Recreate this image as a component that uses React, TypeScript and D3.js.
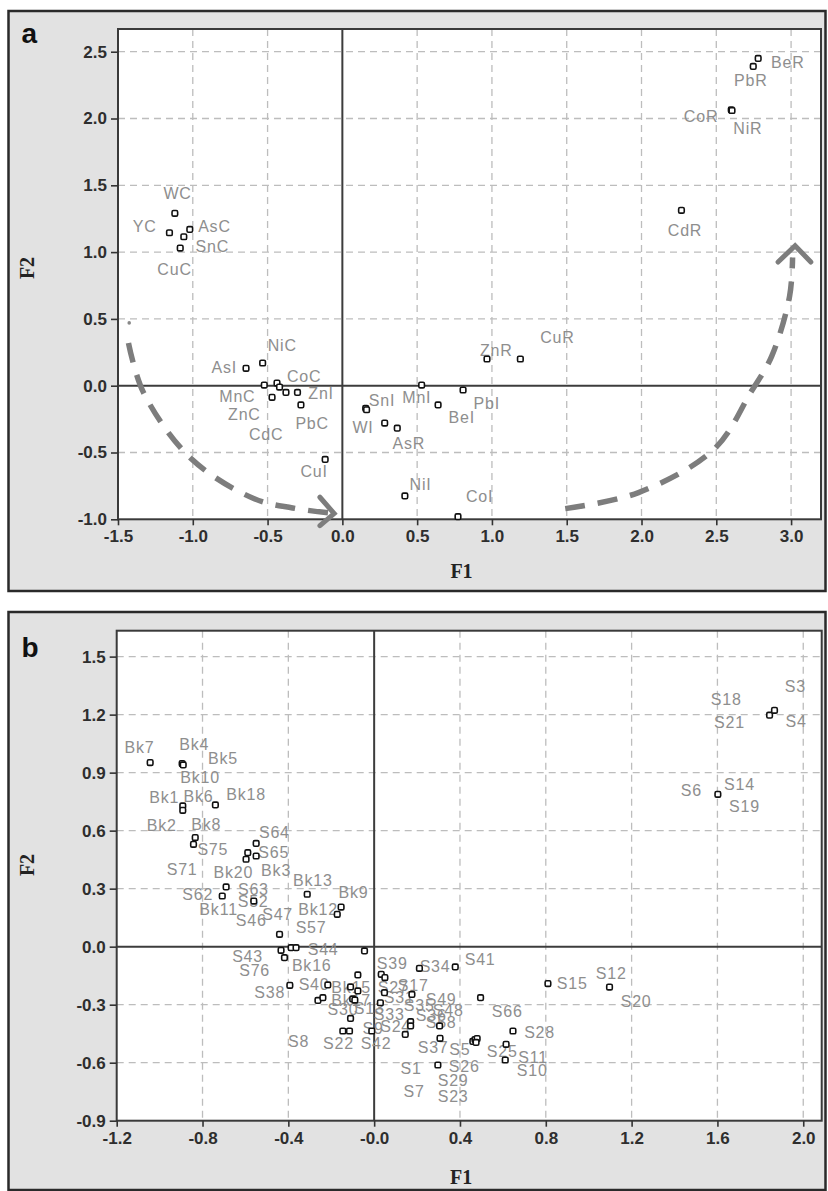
import React, { useRef, useEffect } from 'react';
import * as d3 from 'd3';

// ---- panel a : variables (fractions) ----
const aPoints = [
  { f1: -1.12, f2: 1.29 }, { f1: -1.156, f2: 1.145 }, { f1: -1.02, f2: 1.17 },
  { f1: -1.06, f2: 1.115 }, { f1: -1.084, f2: 1.03 },
  { f1: 2.78, f2: 2.45 }, { f1: 2.747, f2: 2.39 }, { f1: 2.6, f2: 2.065 },
  { f1: 2.605, f2: 2.06 }, { f1: 2.267, f2: 1.313 },
  { f1: -0.644, f2: 0.13 }, { f1: -0.533, f2: 0.17 }, { f1: -0.522, f2: 0.005 },
  { f1: -0.437, f2: 0.02 }, { f1: -0.42, f2: -0.01 }, { f1: -0.377, f2: -0.05 },
  { f1: -0.3, f2: -0.05 }, { f1: -0.47, f2: -0.087 }, { f1: -0.277, f2: -0.144 },
  { f1: -0.115, f2: -0.552 },
  { f1: 0.156, f2: -0.17 }, { f1: 0.162, f2: -0.18 }, { f1: 0.283, f2: -0.28 },
  { f1: 0.367, f2: -0.318 }, { f1: 0.418, f2: -0.825 }, { f1: 0.53, f2: 0.005 },
  { f1: 0.64, f2: -0.144 }, { f1: 0.807, f2: -0.032 }, { f1: 0.967, f2: 0.2 },
  { f1: 1.19, f2: 0.2 }, { f1: 0.773, f2: -0.98 },
];

const aLabels = [
  { text: 'WC', f1: -1.102, f2: 1.444 }, { text: 'YC', f1: -1.322, f2: 1.192 },
  { text: 'AsC', f1: -0.855, f2: 1.192 }, { text: 'SnC', f1: -0.869, f2: 1.043 },
  { text: 'CuC', f1: -1.122, f2: 0.871 }, { text: 'BeR', f1: 2.978, f2: 2.423 },
  { text: 'PbR', f1: 2.731, f2: 2.289 }, { text: 'CoR', f1: 2.398, f2: 2.02 },
  { text: 'NiR', f1: 2.711, f2: 1.93 }, { text: 'CdR', f1: 2.291, f2: 1.162 },
  { text: 'AsI', f1: -0.789, f2: 0.14 }, { text: 'NiC', f1: -0.402, f2: 0.304 },
  { text: 'MnC', f1: -0.702, f2: -0.077 }, { text: 'CoC', f1: -0.255, f2: 0.072 },
  { text: 'ZnI', f1: -0.142, f2: -0.054 }, { text: 'ZnC', f1: -0.655, f2: -0.211 },
  { text: 'PbC', f1: -0.202, f2: -0.278 }, { text: 'CdC', f1: -0.509, f2: -0.36 },
  { text: 'CuI', f1: -0.189, f2: -0.644 }, { text: 'SnI', f1: 0.265, f2: -0.107 },
  { text: 'WI', f1: 0.138, f2: -0.308 }, { text: 'AsR', f1: 0.445, f2: -0.428 },
  { text: 'NiI', f1: 0.523, f2: -0.741 }, { text: 'MnI', f1: 0.498, f2: -0.084 },
  { text: 'BeI', f1: 0.798, f2: -0.234 }, { text: 'PbI', f1: 0.965, f2: -0.129 },
  { text: 'ZnR', f1: 1.029, f2: 0.269 }, { text: 'CuR', f1: 1.438, f2: 0.363 },
  { text: 'CoI', f1: 0.918, f2: -0.831 },
];

// dashed trend arrows drawn on panel a (data units)
const aArrowLeft = [[-1.43, 0.32], [-1.33, -0.05], [-1.01, -0.547], [-0.589, -0.846], [-0.333, -0.915], [-0.07, -0.955]];
const aArrowLeftHead = [[-0.15, -0.835], [-0.055, -0.957], [-0.15, -1.048]];
const aArrowRight = [[1.49, -0.92], [1.98, -0.8], [2.49, -0.47], [2.73, -0.05], [2.87, 0.22], [2.99, 0.67], [3.01, 0.96]];
const aArrowRightHead = [[2.913, 0.926], [3.027, 1.048], [3.132, 0.926]];

const aXTicks = [-1.5, -1.0, -0.5, 0.0, 0.5, 1.0, 1.5, 2.0, 2.5, 3.0];
const aXTickLabels = ['-1.5', '-1.0', '-0.5', '0.0', '0.5', '1.0', '1.5', '2.0', '2.5', '3.0'];
const aYTicks = [-1.0, -0.5, 0.0, 0.5, 1.0, 1.5, 2.0, 2.5];
const aYTickLabels = ['-1.0', '-0.5', '0.0', '0.5', '1.0', '1.5', '2.0', '2.5'];

// ---- panel b : samples ----
const bPoints = [
  [-1.044, 0.952], [-0.895, 0.947], [-0.89, 0.94],
  [-0.892, 0.728], [-0.892, 0.705], [-0.74, 0.733],
  [-0.834, 0.564], [-0.842, 0.529],
  [-0.55, 0.534], [-0.589, 0.486], [-0.55, 0.469], [-0.597, 0.452],
  [-0.69, 0.309], [-0.708, 0.262], [-0.561, 0.236],
  [-0.312, 0.271], [-0.154, 0.205], [-0.172, 0.167],
  [-0.441, 0.064],
  [-0.434, -0.019], [-0.418, -0.057], [-0.387, -0.005], [-0.364, -0.005],
  [-0.045, -0.022],
  [-0.393, -0.2], [-0.216, -0.198], [-0.262, -0.278], [-0.239, -0.264],
  [-0.076, -0.146], [-0.11, -0.208], [-0.076, -0.229], [-0.1, -0.27], [-0.09, -0.276],
  [-0.11, -0.371], [-0.146, -0.436], [-0.115, -0.436], [-0.011, -0.436],
  [0.033, -0.143], [0.05, -0.16], [0.048, -0.238], [0.029, -0.29],
  [0.211, -0.112], [0.378, -0.105], [0.176, -0.247],
  [0.17, -0.388], [0.17, -0.41], [0.145, -0.454],
  [0.305, -0.41], [0.307, -0.474], [0.297, -0.612],
  [0.496, -0.264],
  [0.46, -0.49], [0.47, -0.48], [0.48, -0.475], [0.475, -0.495],
  [0.647, -0.436], [0.615, -0.505], [0.611, -0.586],
  [0.81, -0.191], [1.097, -0.209],
  [1.843, 1.197], [1.866, 1.222],
  [1.602, 0.788],
];

const bLabels = [
  { text: 'Bk7', f1: -1.094, f2: 1.033 }, { text: 'Bk4', f1: -0.839, f2: 1.047 },
  { text: 'Bk5', f1: -0.705, f2: 0.974 }, { text: 'Bk10', f1: -0.811, f2: 0.874 },
  { text: 'Bk1', f1: -0.978, f2: 0.774 }, { text: 'Bk6', f1: -0.819, f2: 0.78 },
  { text: 'Bk18', f1: -0.597, f2: 0.788 }, { text: 'Bk2', f1: -0.99, f2: 0.63 },
  { text: 'Bk8', f1: -0.783, f2: 0.633 }, { text: 'S64', f1: -0.465, f2: 0.59 },
  { text: 'S75', f1: -0.752, f2: 0.503 }, { text: 'S65', f1: -0.468, f2: 0.486 },
  { text: 'S71', f1: -0.895, f2: 0.4 }, { text: 'Bk20', f1: -0.656, f2: 0.383 },
  { text: 'Bk3', f1: -0.457, f2: 0.395 }, { text: 'Bk13', f1: -0.286, f2: 0.345 },
  { text: 'S62', f1: -0.822, f2: 0.271 }, { text: 'S63', f1: -0.563, f2: 0.296 },
  { text: 'S52', f1: -0.564, f2: 0.236 }, { text: 'Bk9', f1: -0.096, f2: 0.279 },
  { text: 'Bk11', f1: -0.725, f2: 0.191 }, { text: 'Bk12', f1: -0.261, f2: 0.193 },
  { text: 'S47', f1: -0.45, f2: 0.166 }, { text: 'S46', f1: -0.573, f2: 0.135 },
  { text: 'S57', f1: -0.294, f2: 0.098 }, { text: 'S43', f1: -0.59, f2: -0.047 },
  { text: 'S44', f1: -0.238, f2: -0.014 }, { text: 'Bk16', f1: -0.291, f2: -0.098 },
  { text: 'S76', f1: -0.557, f2: -0.123 }, { text: 'S39', f1: 0.084, f2: -0.088 },
  { text: 'S34', f1: 0.284, f2: -0.1 }, { text: 'S41', f1: 0.494, f2: -0.066 },
  { text: 'S15', f1: 0.923, f2: -0.191 }, { text: 'S12', f1: 1.105, f2: -0.135 },
  { text: 'S20', f1: 1.221, f2: -0.281 }, { text: 'S38', f1: -0.487, f2: -0.238 },
  { text: 'S40', f1: -0.28, f2: -0.195 }, { text: 'S66', f1: 0.62, f2: -0.333 },
  { text: 'S28', f1: 0.771, f2: -0.44 }, { text: 'S8', f1: -0.352, f2: -0.488 },
  { text: 'S22', f1: -0.166, f2: -0.497 }, { text: 'S42', f1: 0.009, f2: -0.497 },
  { text: 'S37', f1: 0.275, f2: -0.522 }, { text: 'S5', f1: 0.399, f2: -0.531 },
  { text: 'S25', f1: 0.597, f2: -0.54 }, { text: 'S11', f1: 0.741, f2: -0.574 },
  { text: 'S1', f1: 0.172, f2: -0.63 }, { text: 'S26', f1: 0.42, f2: -0.617 },
  { text: 'S10', f1: 0.737, f2: -0.64 }, { text: 'S29', f1: 0.368, f2: -0.693 },
  { text: 'S7', f1: 0.186, f2: -0.75 }, { text: 'S23', f1: 0.368, f2: -0.771 },
  { text: 'S3', f1: 1.963, f2: 1.349 }, { text: 'S18', f1: 1.641, f2: 1.279 },
  { text: 'S21', f1: 1.656, f2: 1.159 }, { text: 'S4', f1: 1.967, f2: 1.168 },
  { text: 'S6', f1: 1.478, f2: 0.811 }, { text: 'S14', f1: 1.703, f2: 0.84 },
  { text: 'S19', f1: 1.726, f2: 0.724 },
  // crowded centre, labels overlap
  { text: 'S27', f1: 0.089, f2: -0.212 }, { text: 'S17', f1: 0.182, f2: -0.202 },
  { text: 'S31', f1: 0.117, f2: -0.264 }, { text: 'Bk15', f1: -0.107, f2: -0.212 },
  { text: 'Bk17', f1: -0.107, f2: -0.279 }, { text: 'S30', f1: -0.145, f2: -0.326 },
  { text: 'S13', f1: -0.023, f2: -0.316 }, { text: 'S33', f1: 0.07, f2: -0.347 },
  { text: 'S35', f1: 0.21, f2: -0.305 }, { text: 'S36', f1: 0.266, f2: -0.357 },
  { text: 'S49', f1: 0.312, f2: -0.274 }, { text: 'S48', f1: 0.345, f2: -0.331 },
  { text: 'S58', f1: 0.312, f2: -0.393 }, { text: 'S9', f1: -0.005, f2: -0.424 },
  { text: 'S24', f1: 0.1, f2: -0.41 },
];

const bXTicks = [-1.2, -0.8, -0.4, 0.0, 0.4, 0.8, 1.2, 1.6, 2.0];
const bXTickLabels = ['-1.2', '-0.8', '-0.4', '-0.0', '0.4', '0.8', '1.2', '1.6', '2.0'];
const bYTicks = [-0.9, -0.6, -0.3, 0.0, 0.3, 0.6, 0.9, 1.2, 1.5];
const bYTickLabels = ['-0.9', '-0.6', '-0.3', '0.0', '0.3', '0.6', '0.9', '1.2', '1.5'];

const SANS = '"Liberation Sans", Arial, sans-serif';
const SERIF = '"Liberation Serif", "Times New Roman", serif';

function drawPanel(svg, cfg) {
  const g = svg.append('g');
  const { frame, plot } = cfg;

  g.append('rect')
    .attr('x', frame.x).attr('y', frame.y)
    .attr('width', frame.w).attr('height', frame.h)
    .attr('fill', '#e2e2e2').attr('stroke', '#2a2a2a').attr('stroke-width', 2.5);

  const x = d3.scaleLinear().domain(cfg.xDomain).range([plot.x0, plot.x1]);
  const y = d3.scaleLinear().domain(cfg.yDomain).range([plot.y1, plot.y0]);

  g.append('rect')
    .attr('x', plot.x0).attr('y', plot.y0)
    .attr('width', plot.x1 - plot.x0).attr('height', plot.y1 - plot.y0)
    .attr('fill', '#fff');

  // dashed grid
  g.selectAll('.vgrid')
    .data(cfg.xTicks.filter(t => t !== 0 && x(t) > plot.x0 + 3))
    .join('line')
    .attr('x1', d => x(d)).attr('x2', d => x(d))
    .attr('y1', plot.y0).attr('y2', plot.y1)
    .attr('stroke', '#bdbdbd').attr('stroke-width', 1.3).attr('stroke-dasharray', '7,5');
  g.selectAll('.hgrid')
    .data(cfg.yTicks.filter(t => t !== 0 && y(t) < plot.y1 - 3))
    .join('line')
    .attr('x1', plot.x0).attr('x2', plot.x1)
    .attr('y1', d => y(d)).attr('y2', d => y(d))
    .attr('stroke', '#bdbdbd').attr('stroke-width', 1.3).attr('stroke-dasharray', '7,5');

  // zero lines
  g.append('line').attr('x1', x(0)).attr('x2', x(0)).attr('y1', plot.y0).attr('y2', plot.y1)
    .attr('stroke', '#3c3c3c').attr('stroke-width', 2);
  g.append('line').attr('x1', plot.x0).attr('x2', plot.x1).attr('y1', y(0)).attr('y2', y(0))
    .attr('stroke', '#3c3c3c').attr('stroke-width', 2);

  g.append('rect')
    .attr('x', plot.x0).attr('y', plot.y0)
    .attr('width', plot.x1 - plot.x0).attr('height', plot.y1 - plot.y0)
    .attr('fill', 'none').attr('stroke', '#3a3a3a').attr('stroke-width', 2);

  // axes
  const yAxis = g.append('g')
    .attr('transform', `translate(${plot.x0},0)`)
    .call(d3.axisLeft(y).tickValues(cfg.yTicks).tickSize(7).tickPadding(4)
      .tickFormat((d, i) => cfg.yTickLabels[i]));
  const xAxis = g.append('g')
    .attr('transform', `translate(0,${plot.y1})`)
    .call(d3.axisBottom(x).tickValues(cfg.xTicks).tickSize(6).tickPadding(5)
      .tickFormat((d, i) => cfg.xTickLabels[i]));
  [yAxis, xAxis].forEach(ax => {
    ax.select('.domain').remove();
    ax.selectAll('line').attr('stroke', '#333').attr('stroke-width', 1.6);
    ax.selectAll('text')
      .attr('fill', '#2e2e2e')
      .style('font-family', SANS)
      .style('font-size', '17px')
      .style('font-weight', 'bold');
  });

  // trend arrows (panel a only)
  const line = d3.line().x(d => x(d[0])).y(d => y(d[1])).curve(d3.curveCatmullRom);
  (cfg.arrows || []).forEach(a => {
    g.append('path').attr('d', line(a.path))
      .attr('fill', 'none').attr('stroke', '#7d7d7d').attr('stroke-width', 5.5)
      .attr('stroke-dasharray', '20,13');
    g.append('path').attr('d', d3.line().x(d => x(d[0])).y(d => y(d[1]))(a.head))
      .attr('fill', 'none').attr('stroke', '#7d7d7d').attr('stroke-width', 5)
      .attr('stroke-linecap', 'round');
  });
  if (cfg.arrows) {
    g.append('circle').attr('cx', x(-1.425)).attr('cy', y(0.47)).attr('r', 1.8).attr('fill', '#888');
  }

  // labels
  g.selectAll('.lbl')
    .data(cfg.labels)
    .join('text')
    .attr('x', d => x(d.f1))
    .attr('y', d => y(d.f2))
    .attr('dy', '0.36em')
    .attr('text-anchor', 'middle')
    .attr('fill', '#8e8e8e')
    .style('font-family', SANS)
    .style('font-size', '16px')
    .style('letter-spacing', '0.8px')
    .text(d => d.text);

  // points: small open squares
  g.selectAll('.pt')
    .data(cfg.points)
    .join('rect')
    .attr('x', d => x(d[0]) - 2.8)
    .attr('y', d => y(d[1]) - 2.8)
    .attr('width', 5.6).attr('height', 5.6).attr('rx', 1.4)
    .attr('fill', '#fff').attr('stroke', '#111').attr('stroke-width', 1.6);

  // panel letter and axis titles
  g.append('text').attr('x', frame.x + 13).attr('y', cfg.letterY)
    .style('font-family', SANS).style('font-size', '28px').style('font-weight', 'bold')
    .attr('fill', '#111').text(cfg.letter);
  g.append('text')
    .attr('transform', `translate(${frame.x + 25},${cfg.f2Y}) rotate(-90)`)
    .attr('text-anchor', 'middle')
    .style('font-family', SERIF).style('font-size', '20px').style('font-weight', 'bold')
    .attr('fill', '#222').text('F2');
  g.append('text').attr('x', (plot.x0 + plot.x1) / 2 - 8).attr('y', cfg.f1Y)
    .attr('text-anchor', 'middle')
    .style('font-family', SERIF).style('font-size', '20px').style('font-weight', 'bold')
    .attr('fill', '#222').text('F1');
}

const App = () => {
  const svgRef = useRef(null);
  useEffect(() => {
    const svg = d3.select(svgRef.current);
    svg.selectAll('*').remove();
    svg.append('rect').attr('width', 828).attr('height', 1191).attr('fill', '#fff');

    drawPanel(svg, {
      frame: { x: 8.5, y: 11, w: 817, h: 580 },
      plot: { x0: 118, x1: 821, y0: 29, y1: 519.3 },
      xDomain: [-1.5, 3.2], yDomain: [-1.0, 2.67],
      xTicks: aXTicks, xTickLabels: aXTickLabels,
      yTicks: aYTicks, yTickLabels: aYTickLabels,
      points: aPoints.map(p => [p.f1, p.f2]),
      labels: aLabels,
      arrows: [
        { path: aArrowLeft, head: aArrowLeftHead },
        { path: aArrowRight, head: aArrowRightHead },
      ],
      letter: 'a', letterY: 43, f2Y: 268, f1Y: 578,
    });

    drawPanel(svg, {
      frame: { x: 8.5, y: 612, w: 817, h: 578 },
      plot: { x0: 116.7, x1: 821.7, y0: 630.7, y1: 1120.7 },
      xDomain: [-1.2, 2.086], yDomain: [-0.9, 1.634],
      xTicks: bXTicks, xTickLabels: bXTickLabels,
      yTicks: bYTicks, yTickLabels: bYTickLabels,
      points: bPoints,
      labels: bLabels,
      letter: 'b', letterY: 657, f2Y: 865, f1Y: 1184,
    });

    return () => {
      svg.selectAll('*').remove();
    };
  }, []);

  return (
    <svg ref={svgRef} width={828} height={1191}
      style={{ position: 'absolute', left: 0, top: 0, display: 'block' }} />
  );
};

export default App;
